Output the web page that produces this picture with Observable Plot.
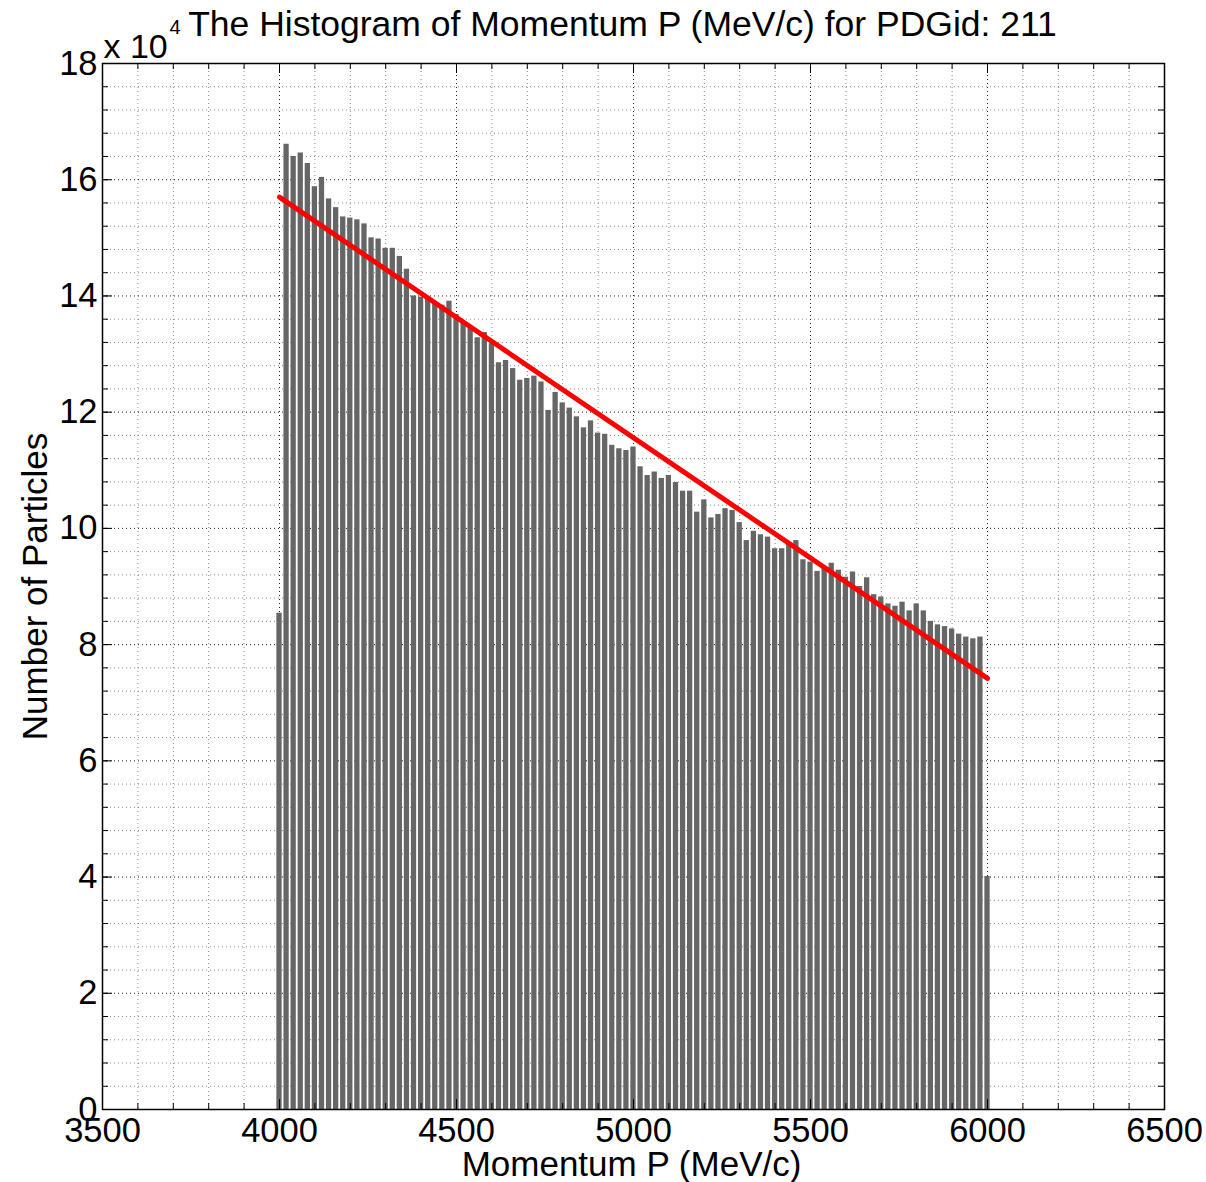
<!DOCTYPE html>
<html><head><meta charset="utf-8">
<script src="https://cdn.jsdelivr.net/npm/d3@7"></script>
<script src="https://cdn.jsdelivr.net/npm/@observablehq/plot@0.6"></script>
<style>body{margin:0;background:#fff} #chart svg{display:block}</style>
</head><body><div id="chart"></div>
<script>
// Histogram bin centres (MeV/c), 20 MeV/c bins
const binCenters = d3.range(4000, 6001, 20);
const binWidth = 20;
// Counts per bin (units of particles)
const counts = [
  85400, 166100, 164000, 164600, 162800, 158800, 160400, 156700, 155200, 153600,
  153400, 153100, 152400, 150000, 149800, 148200, 148200, 146800, 144600, 140000,
  139800, 139500, 138800, 138400, 139100, 136800, 135500, 134400, 132800, 133700,
  131800, 128500, 128900, 127500, 125500, 125800, 126200, 125200, 120300, 123400,
  121600, 120700, 119200, 117300, 118500, 116400, 116200, 114300, 113700, 113400,
  114000, 110600, 109100, 109700, 108600, 109100, 107900, 106400, 106400, 102800,
  104900, 101800, 102400, 103400, 103100, 101000, 97900, 99500, 98900, 98500,
  96500, 96500, 97500, 97900, 94600, 94200, 92600, 93300, 94000, 92800,
  91600, 92500, 90000, 91500, 88600, 88200, 87000, 86600, 87300, 85800,
  87000, 85800, 84000, 83400, 83100, 82700, 81800, 81300, 81000, 81300,
  40100
];
// Linear fit endpoints
const fitP = [4000, 6000];
const fitN = [157000, 74200];
// Axis ticks
const xMajor = [3500, 4000, 4500, 5000, 5500, 6000, 6500];
const xMinor = d3.range(3500, 6501, 100);
const yMajor = [0, 20000, 40000, 60000, 80000, 100000, 120000, 140000, 160000, 180000];
const yMinor = d3.range(0, 180001, 4000);
const title = "The Histogram of Momentum P (MeV/c) for PDGid: 211";
const xLabel = "Momentum P (MeV/c)";
const yLabel = "Number of Particles";

const bins = binCenters.map((c, i) => ({c, n: counts[i]}));
const fit = fitP.map((p, i) => ({p, n: fitN[i]}));

const W = 1206, H = 1182, mL = 102, mR = 42, mT = 63, mB = 73;
const iW = W - mL - mR, iH = H - mT - mB;
const font = "Liberation Sans, Arial, Helvetica, sans-serif";

const chart = Plot.plot({
  width: W, height: H,
  marginLeft: mL, marginRight: mR, marginTop: mT, marginBottom: mB,
  style: {fontFamily: font, background: "#fff", color: "#000"},
  x: {domain: [3500, 6500]},
  y: {domain: [0, 180000]},
  marks: [
    Plot.ruleX(xMinor.filter(d => !xMajor.includes(d)), {stroke: "#888", strokeDasharray: "1,3"}),
    Plot.ruleY(yMinor.filter(d => !yMajor.includes(d)), {stroke: "#888", strokeDasharray: "1,3"}),
    Plot.ruleX(xMajor, {stroke: "#222", strokeDasharray: "1,3"}),
    Plot.ruleY(yMajor, {stroke: "#222", strokeDasharray: "1,3"}),
    Plot.rectY(bins, {x1: d => d.c - binWidth / 2, x2: d => d.c + binWidth / 2, y1: 0, y2: "n",
      fill: "#666666", insetLeft: 0.9, insetRight: 0.9}),
    Plot.line(fit, {x: "p", y: "n", stroke: "#ff0000", strokeWidth: 5}),
    // inward ticks on all four sides
    Plot.tickX(xMinor, {x: d => d, insetTop: iH - 6, stroke: "#000"}),
    Plot.tickX(xMinor, {x: d => d, insetBottom: iH - 6, stroke: "#000"}),
    Plot.tickX(xMajor, {x: d => d, insetTop: iH - 10, stroke: "#000"}),
    Plot.tickX(xMajor, {x: d => d, insetBottom: iH - 10, stroke: "#000"}),
    Plot.tickY(yMinor, {y: d => d, insetRight: iW - 6, stroke: "#000"}),
    Plot.tickY(yMinor, {y: d => d, insetLeft: iW - 6, stroke: "#000"}),
    Plot.tickY(yMajor, {y: d => d, insetRight: iW - 10, stroke: "#000"}),
    Plot.tickY(yMajor, {y: d => d, insetLeft: iW - 10, stroke: "#000"}),
    Plot.frame({stroke: "#000", strokeWidth: 1.5}),
    Plot.axisX({ticks: xMajor, tickSize: 0, tickPadding: 8, fontSize: 34.5, label: null, tickFormat: d => String(d)}),
    Plot.axisY({ticks: yMajor, tickSize: 0, tickPadding: 5, fontSize: 34.5, label: null, tickFormat: d => String(d / 1e4)}),
    Plot.text([title], {frameAnchor: "top", lineAnchor: "middle", dx: -11, dy: -39, fontSize: 35.5, text: d => d}),
    Plot.text(["x 10"], {frameAnchor: "top-left", lineAnchor: "middle", textAnchor: "start", dx: 1, dy: -16, fontSize: 34, text: d => d}),
    Plot.text(["4"], {frameAnchor: "top-left", lineAnchor: "middle", textAnchor: "start", dx: 67, dy: -36, fontSize: 20, text: d => d}),
    Plot.text([xLabel], {frameAnchor: "bottom", lineAnchor: "middle", dx: -2, dy: 55, fontSize: 35, text: d => d}),
    Plot.text([yLabel], {frameAnchor: "left", lineAnchor: "middle", textAnchor: "middle", dx: -67, rotate: -90, fontSize: 35, text: d => d})
  ]
});
document.getElementById("chart").appendChild(chart);
</script>
</body></html>
